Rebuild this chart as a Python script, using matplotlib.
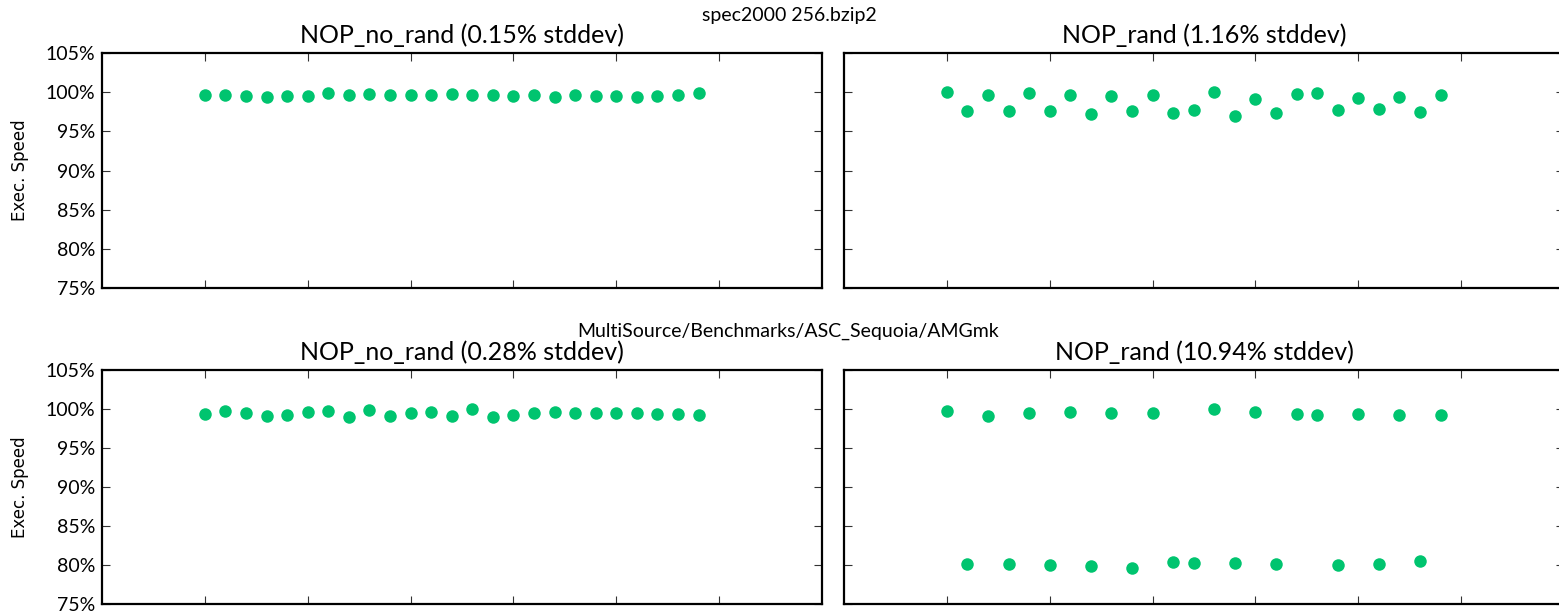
import matplotlib
matplotlib.use("Agg")
import matplotlib.pyplot as plt
import numpy as np

# ---- data ----
suptitles = ["spec2000 256.bzip2", "MultiSource/Benchmarks/ASC_Sequoia/AMGmk"]
titles = [["NOP_no_rand (0.15% stddev)", "NOP_rand (1.16% stddev)"],
          ["NOP_no_rand (0.28% stddev)", "NOP_rand (10.94% stddev)"]]

bzip2_no_rand = [99.6, 99.6, 99.5, 99.4, 99.5, 99.5, 99.9, 99.7, 99.8, 99.6,
                 99.7, 99.6, 99.8, 99.7, 99.7, 99.5, 99.7, 99.35, 99.6, 99.45,
                 99.5, 99.35, 99.5, 99.6, 99.9]
bzip2_rand = [100.0, 97.6, 99.7, 97.6, 99.9, 97.6, 99.6, 97.2, 99.5, 97.6,
              99.6, 97.4, 97.7, 100.0, 96.9, 99.1, 97.4, 99.8, 99.9, 97.7,
              99.2, 97.8, 99.4, 97.45, 99.7]
amgmk_no_rand = [99.35, 99.75, 99.55, 99.05, 99.25, 99.65, 99.75, 98.95, 99.85, 99.15,
                 99.55, 99.6, 99.05, 99.95, 98.95, 99.25, 99.55, 99.6, 99.45, 99.45,
                 99.55, 99.55, 99.35, 99.35, 99.25]
amgmk_rand = [99.75, 80.15, 99.15, 80.15, 99.45, 79.95, 99.65, 79.85, 99.55, 79.65,
              99.45, 80.4, 80.25, 100.05, 80.25, 99.65, 80.15, 99.3, 99.2, 80.05,
              99.3, 80.15, 99.25, 80.45, 99.25]

series = [[bzip2_no_rand, bzip2_rand], [amgmk_no_rand, amgmk_rand]]
yticks = [75, 80, 85, 90, 95, 100, 105]
ytick_labels = ["75%", "80%", "85%", "90%", "95%", "100%", "105%"]
xticks = [0, 5, 10, 15, 20, 25]

color = "#00c46f"
W, H = 1559, 611
fig = plt.figure(figsize=(W / 100, H / 100), dpi=100)

# axes boxes in pixels: (left, top, right, bottom)
lefts = [102, 844]
width = 720
rows = [(53, 288), (370, 604)]

label_font = "Lato"
for r in range(2):
    top, bottom = rows[r]
    for c in range(2):
        l = lefts[c]
        ax = fig.add_axes([l / W, 1 - bottom / H, width / W, (bottom - top) / H])
        vals = series[r][c]
        x = np.arange(len(vals))
        ax.plot(x, vals, linestyle="none", marker="o", markersize=9,
                color=color, markeredgewidth=0)
        ax.set_xlim(-5, 30)
        ax.set_ylim(75, 105)
        ax.set_xticks(xticks)
        ax.set_xticklabels([])
        ax.set_yticks(yticks)
        if c == 0:
            ax.set_yticklabels(ytick_labels, fontfamily=label_font, fontsize=14)
            ax.set_ylabel("Exec. Speed", fontfamily="DejaVu Sans", fontsize=12, labelpad=12)
        else:
            ax.set_yticklabels([])
        ax.tick_params(direction="in", top=True, right=True, length=6, width=0.8,
                       color="#333333", pad=5)
        for s in ax.spines.values():
            s.set_linewidth(1.6)
            s.set_color("black")
        ax.set_title(titles[r][c], fontfamily=label_font, fontsize=18, pad=7)

fig.text(789 / W, 1 - 15 / H, suptitles[0], ha="center", va="center",
         fontfamily=label_font, fontsize=14)
fig.text(788 / W, 1 - 331 / H, suptitles[1], ha="center", va="center",
         fontfamily=label_font, fontsize=14)

fig.savefig("out.png", dpi=100)
